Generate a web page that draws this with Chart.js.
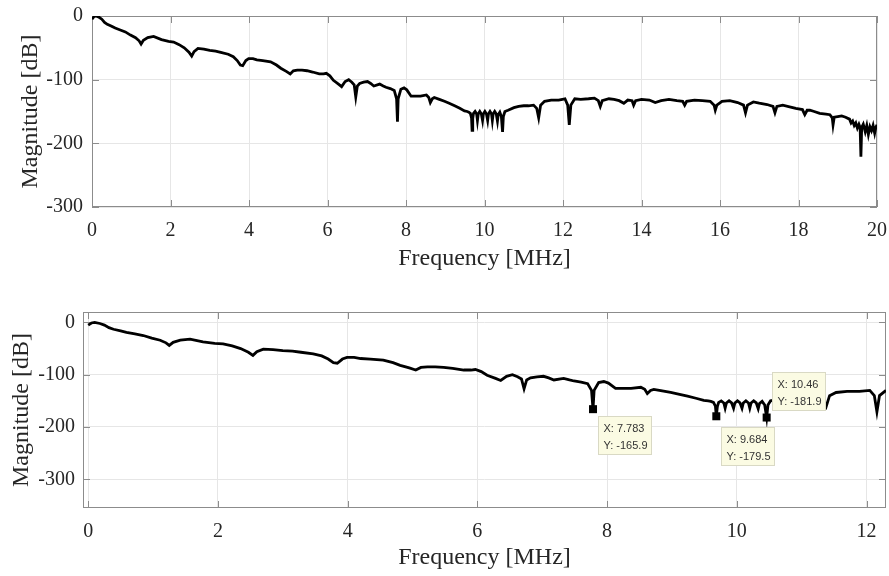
<!DOCTYPE html>
<html lang="en">
<head>
<meta charset="UTF-8" />
<title>Magnitude x Frequency</title>
<script src="https://cdn.jsdelivr.net/npm/chart.js"></script>
<style>
  body { margin: 0; background: #fff; }
  .painel { position: relative; width: 889px; height: 576px; }
  canvas { position: absolute; left: 0; }
</style>
</head>
<body>
<div class="painel">
  <canvas id="graficoCompleto" width="889" height="288" style="top:0"></canvas>
  <canvas id="graficoZoom" width="889" height="288" style="top:288px"></canvas>
</div>
<script>
  // valores (MHz, dB)
  const frequencias = [
    0.00, 0.05, 0.10, 0.18, 0.25, 0.32, 0.39, 0.50, 0.59, 0.72, 0.85, 0.98, 1.11, 1.20, 1.25, 1.31,
    1.42, 1.57, 1.77, 1.95, 2.08, 2.22, 2.35, 2.47, 2.54, 2.60, 2.70, 2.85, 3.00, 3.15, 3.28, 3.47,
    3.60, 3.70, 3.78, 3.84, 3.92, 3.99, 4.10, 4.20, 4.35, 4.55, 4.70, 4.81, 4.95, 5.05, 5.13, 5.23,
    5.35, 5.48, 5.62, 5.79, 5.90, 5.97, 6.06, 6.15, 6.28, 6.36, 6.45, 6.54, 6.62, 6.68, 6.72, 6.76,
    6.82, 6.92, 7.02, 7.10, 7.18, 7.33, 7.42, 7.49, 7.60, 7.70, 7.76, 7.783, 7.80, 7.87, 7.95, 8.02,
    8.13, 8.25, 8.37, 8.52, 8.58, 8.62, 8.67, 8.72, 8.85, 8.98, 9.10, 9.24, 9.37, 9.49, 9.56, 9.60,
    9.64, 9.67, 9.684, 9.70, 9.72, 9.76, 9.80, 9.82, 9.84, 9.88, 9.92, 9.95, 9.97, 10.01, 10.05, 10.08,
    10.10, 10.14, 10.18, 10.20, 10.22, 10.26, 10.30, 10.33, 10.35, 10.39, 10.43, 10.46, 10.48, 10.52, 10.60, 10.75,
    10.87, 11.00, 11.12, 11.25, 11.33, 11.38, 11.43, 11.53, 11.70, 11.89, 12.05, 12.12, 12.16, 12.20, 12.30, 12.45,
    12.65, 12.80, 12.90, 12.95, 13.00, 13.17, 13.30, 13.43, 13.55, 13.65, 13.76, 13.80, 13.85, 14.00, 14.20, 14.35,
    14.50, 14.70, 14.90, 15.05, 15.10, 15.15, 15.35, 15.55, 15.75, 15.85, 15.88, 15.92, 16.05, 16.25, 16.45, 16.60,
    16.65, 16.70, 16.85, 17.00, 17.20, 17.35, 17.40, 17.45, 17.60, 17.80, 17.93, 18.10, 18.16, 18.22, 18.29, 18.40,
    18.54, 18.70, 18.80, 18.86, 18.88, 18.91, 19.00, 19.10, 19.20, 19.30, 19.34, 19.38, 19.42, 19.46, 19.50, 19.54,
    19.57, 19.59, 19.61, 19.65, 19.70, 19.74, 19.78, 19.82, 19.86, 19.90, 19.94, 19.97, 20.00
  ];
  const magnitudes = [
    -5, -1, 0, -2, -5, -10, -13, -16, -19, -22, -25, -30, -34, -39, -44, -38,
    -34, -32, -37, -40, -41, -45, -50, -57, -63, -56, -51, -52, -54, -55, -57, -60,
    -64, -70, -77, -78, -70, -67, -67, -69, -70, -72, -77, -82, -87, -91, -86, -85,
    -85, -86, -88, -91, -91, -90, -94, -101, -107, -111, -103, -100, -104, -108, -127, -110,
    -106, -104, -103, -106, -110, -107, -110, -112, -114, -117, -130, -165.9, -130, -115, -113, -116,
    -126, -126, -126, -124, -128, -136, -130, -128, -131, -134, -137, -141, -145, -149, -150, -151,
    -153, -160, -179.5, -161, -153, -150, -154, -164, -154, -150, -154, -164, -154, -150, -154, -164,
    -154, -150, -154, -164, -154, -150, -154, -165, -155, -151, -158, -181.9, -158, -150, -148, -144,
    -142, -141, -141, -140, -145, -160, -140, -134, -132, -132, -130, -140, -171, -140, -130, -131,
    -130, -129, -133, -142, -133, -130, -131, -133, -137, -132, -133, -140, -133, -131, -132, -136,
    -133, -131, -133, -134, -140, -134, -132, -133, -134, -140, -148, -140, -134, -133, -136, -140,
    -152, -140, -135, -137, -139, -142, -152, -142, -140, -143, -145, -147, -155, -148, -148, -150,
    -153, -154, -155, -160, -171, -159, -158, -157, -159, -162, -168, -165, -172, -168, -176, -170,
    -175, -221, -175, -170, -182, -172, -186, -174, -180, -172, -184, -175, -171
  ];

  const ticksXCompleto = [0, 2, 4, 6, 8, 10, 12, 14, 16, 18, 20];
  const ticksXZoom = [0, 2, 4, 6, 8, 10, 12];
  const ticksY = [0, -100, -200, -300];

  // data tips do grafico de baixo
  const marcadoresX = [7.783, 9.684, 10.46];
  const marcadoresY = [-165.9, -179.5, -181.9];

  const fonteSerif = '"Liberation Serif", "Times New Roman", serif';
  const corTexto = '#262626';

  // caixa em volta do grafico + tracinhos para dentro (estilo matlab)
  const moldura = {
    id: 'moldura',
    beforeDatasetsDraw(chart) {
      const { ctx, chartArea: a, scales } = chart;
      ctx.save();
      ctx.strokeStyle = '#8c8c8c';
      ctx.lineWidth = 1;
      ctx.beginPath();
      scales.x.ticks.forEach(function (t) {
        const px = Math.round(scales.x.getPixelForValue(t.value)) + 0.5;
        ctx.moveTo(px, a.bottom); ctx.lineTo(px, a.bottom - 7);
        ctx.moveTo(px, a.top); ctx.lineTo(px, a.top + 7);
      });
      scales.y.ticks.forEach(function (t) {
        const py = Math.round(scales.y.getPixelForValue(t.value)) + 0.5;
        ctx.moveTo(a.left, py); ctx.lineTo(a.left + 7, py);
        ctx.moveTo(a.right, py); ctx.lineTo(a.right - 7, py);
      });
      ctx.stroke();
      ctx.strokeRect(Math.round(a.left) + 0.5, Math.round(a.top) + 0.5,
        Math.round(a.width) - 1, Math.round(a.height) - 1);
      ctx.restore();
    }
  };

  const dicas = {
    id: 'dicas',
    afterDatasetsDraw(chart) {
      const { ctx, scales: { x, y } } = chart;
      const desloc = [[5, 7], [5, 11], [5, -46]];
      ctx.save();
      for (let i = 0; i < marcadoresX.length; i++) {
        const px = x.getPixelForValue(marcadoresX[i]);
        const py = y.getPixelForValue(marcadoresY[i]);
        ctx.fillStyle = '#000';
        ctx.fillRect(px - 4, py - 4, 8, 8);

        const bx = Math.round(px + desloc[i][0]) + 0.5;
        const by = Math.round(py + desloc[i][1]) + 0.5;
        ctx.fillStyle = '#fbfbe3';
        ctx.strokeStyle = '#d9d9c4';
        ctx.fillRect(bx, by, 53, 38);
        ctx.strokeRect(bx, by, 53, 38);

        ctx.fillStyle = '#333';
        ctx.font = '11px "Liberation Sans", Arial, sans-serif';
        ctx.textBaseline = 'middle';
        ctx.fillText('X: ' + marcadoresX[i], bx + 5, by + 12);
        ctx.fillText('Y: ' + marcadoresY[i].toFixed(1), bx + 5, by + 29);
      }
      ctx.restore();
    }
  };

  function criarGrafico(id, cfg) {
    const pontos = frequencias.map(function (f, i) { return { x: f, y: magnitudes[i] }; });
    return new Chart(document.getElementById(id), {
      type: 'line',
      data: {
        datasets: [{
          data: pontos,
          borderColor: '#000',
          borderWidth: 2.8,
          pointRadius: 0,
          tension: 0,
          fill: false
        }]
      },
      options: {
        responsive: false,
        animation: false,
        events: [],
        layout: { padding: cfg.padding },
        plugins: { legend: { display: false }, tooltip: { enabled: false } },
        scales: {
          x: {
            type: 'linear',
            min: cfg.xMin, max: cfg.xMax,
            afterBuildTicks: function (s) { s.ticks = cfg.ticksX.map(function (v) { return { value: v }; }); },
            afterFit: function (s) {
              s.height = cfg.alturaX;
              // nao deixar o rotulo "20" empurrar a area do grafico
              s.paddingLeft = 0;
              s.paddingRight = 0;
            },
            grid: { color: '#e6e6e6', drawTicks: false },
            border: { display: false },
            ticks: { padding: cfg.padTickX, color: corTexto, font: { family: fonteSerif, size: 20 }, maxRotation: 0 },
            title: {
              display: true, text: 'Frequency [MHz]', color: corTexto,
              font: { family: fonteSerif, size: 24 },
              padding: { top: 0, bottom: cfg.padTituloX }
            }
          },
          y: {
            min: cfg.yMin, max: cfg.yMax,
            afterBuildTicks: function (s) { s.ticks = ticksY.map(function (v) { return { value: v }; }); },
            afterFit: function (s) {
              s.width = cfg.larguraY;
              s.paddingTop = 0;
              s.paddingBottom = 0;
            },
            grid: { color: '#e6e6e6', drawTicks: false },
            border: { display: false },
            ticks: { padding: cfg.padTickY, color: corTexto, font: { family: fonteSerif, size: 20 } },
            title: {
              display: true, text: 'Magnitude [dB]', color: corTexto,
              font: { family: fonteSerif, size: 24 },
              padding: { top: cfg.padTituloY, bottom: 0 }
            }
          }
        }
      },
      plugins: cfg.plugins
    });
  }

  criarGrafico('graficoCompleto', {
    padding: { left: 0, right: 12, top: 16, bottom: 0 },
    xMin: 0, xMax: 20, yMin: -300, yMax: 0,
    ticksX: ticksXCompleto,
    alturaX: 81, larguraY: 92,
    padTickX: 12, padTickY: 9,
    padTituloX: 15, padTituloY: 16,
    plugins: [moldura]
  });

  criarGrafico('graficoZoom', {
    padding: { left: 0, right: 3, top: 24, bottom: 0 },
    xMin: -0.08, xMax: 12.3, yMin: -355, yMax: 20,
    ticksX: ticksXZoom,
    alturaX: 68, larguraY: 83,
    padTickX: 12, padTickY: 8,
    padTituloX: 4, padTituloY: 7,
    plugins: [moldura, dicas]
  });
</script>
</body>
</html>
